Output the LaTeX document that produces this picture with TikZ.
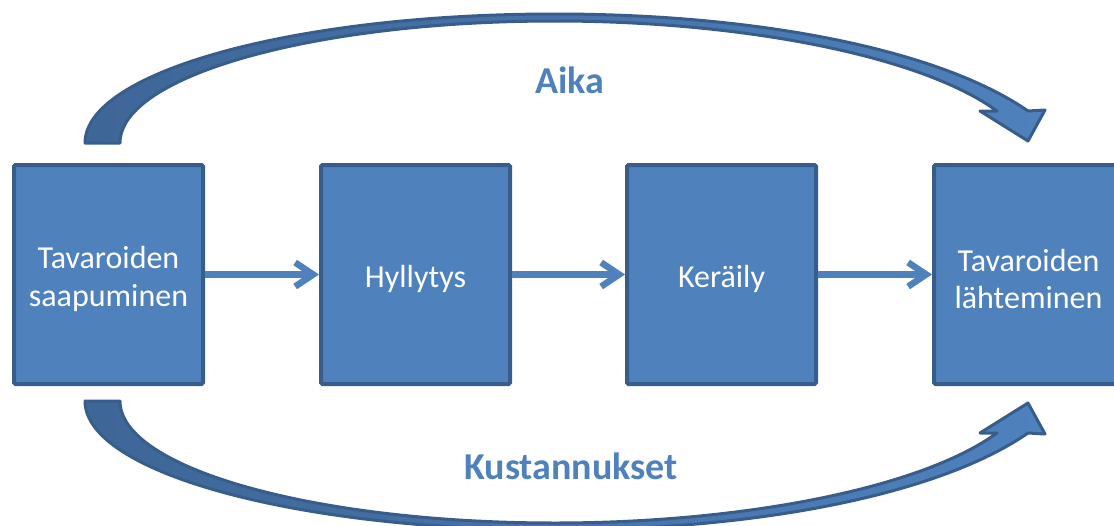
\documentclass[tikz,border=0pt]{standalone}
\usepackage{fontspec}
\setmainfont{Carlito}
\usetikzlibrary{arrows.meta}
\definecolor{boxfill}{HTML}{4F81BD}
\definecolor{boxline}{HTML}{385D8A}
\definecolor{arcdark}{HTML}{3E6697}
% invisible strut that lowers the first text line a little
\newcommand\firstlinestrut{\rule{0pt}{31pt}}
\tikzset{
  stage/.style={draw=boxline, line width=4pt, fill=boxfill, rounded corners=1.5pt,
    minimum width=189pt, minimum height=219pt, inner sep=0pt,
    text=white, align=center, font=\fontsize{32}{37.5}\selectfont},
  flow/.style={draw=boxfill, line width=6.5pt, -{Straight Barb[length=18pt,width=24pt]}},
  bigarrow/.style={draw=boxline, line width=3pt, line join=round,
    left color=arcdark, right color=boxfill},
  title/.style={text=boxfill, font=\fontsize{38}{40}\selectfont\bfseries},
  pics/sweep/.style={code={
    \path[bigarrow] (85,143)
      .. controls (85,71.8) and (295.4,14) .. (555,14)
      .. controls (760,14) and (940,50) .. (1028,111)
      -- (1045,110) -- (1028,141) -- (980,111) -- (997,111)
      .. controls (920,55) and (740,21) .. (555,21)
      .. controls (315,21) and (120,75.6) .. (120,143) -- cycle;
  }}
}
\begin{document}
\begin{tikzpicture}[x=1pt,y=-1pt]
\useasboundingbox (0,0) rectangle (1114,525);
% process stages
\node[stage] (s1) at (108.5,274.5) {\firstlinestrut Tavaroiden\\saapuminen};
\node[stage] (s2) at (415.5,274.5) {\firstlinestrut Hyllytys};
\node[stage] (s3) at (721.5,274.5) {\firstlinestrut Keräily};
\node[stage] (s4) at (1028.5,274.5) {\firstlinestrut Tavaroiden\\lähteminen};
% flow between stages
\draw[flow] (s1) -- (s2);
\draw[flow] (s2) -- (s3);
\draw[flow] (s3) -- (s4);
% sweeping arrows above and below
\pic at (0,0) {sweep};
\pic[yscale=-1] at (0,544) {sweep};
\node[title] (aika) at (570,80) {Aika};
\node[title] (kust) at (571,466) {Kustannukset};
\end{tikzpicture}
\end{document}
